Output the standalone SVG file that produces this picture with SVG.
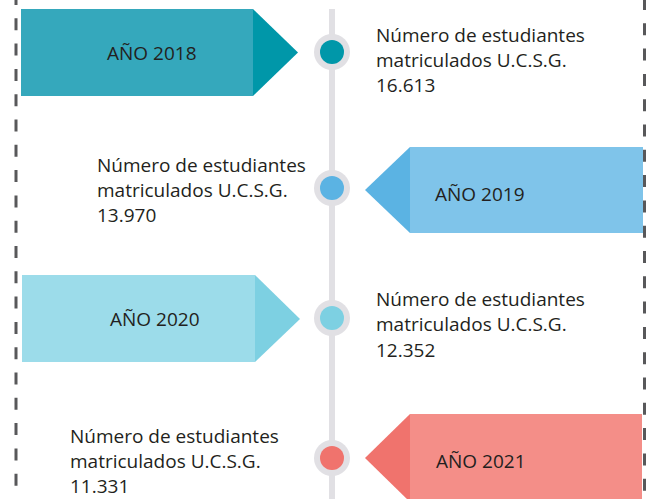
<svg xmlns="http://www.w3.org/2000/svg" width="659" height="499" viewBox="0 0 659 499">
<style>
.t{font-family:"Open Sans","Liberation Sans",sans-serif;font-size:19px;fill:#231f20}
.ring{fill:#e1e0e4}
.dash{stroke:#58585a;stroke-width:3;stroke-dasharray:12 13.3;fill:none}
</style>
<rect width="659" height="499" fill="#ffffff"/>
<g id="borders">
<line class="dash" x1="16" y1="-7" x2="16" y2="499"/>
<line class="dash" x1="644.5" y1="-2" x2="644.5" y2="499"/>
</g>
<g id="connectors">
<line x1="332" y1="9" x2="332" y2="499" stroke="#e1e0e4" stroke-width="6"/>
</g>
<g id="node-2018">
<rect x="21" y="9" width="232" height="87" fill="#35a8bc"/>
<polygon points="253,9 298,52.5 253,96" fill="#0097a9"/>
<text class="t" x="107" y="60">AÑO 2018</text>
<circle class="ring" cx="332" cy="52" r="18"/>
<circle cx="332" cy="52" r="12" fill="#0097a9"/>
<text class="t" x="376" y="42">Número de estudiantes</text>
<text class="t" x="376" y="67">matriculados U.C.S.G.</text>
<text class="t" x="376" y="92">16.613</text>
</g>
<g id="node-2019">
<rect x="410" y="147" width="233" height="86" fill="#7fc4ea"/>
<polygon points="410,147 365,190 410,233" fill="#5bb3e3"/>
<text class="t" x="435" y="201">AÑO 2019</text>
<circle class="ring" cx="332" cy="188" r="18"/>
<circle cx="332" cy="188" r="12" fill="#5bb3e3"/>
<text class="t" x="97" y="172">Número de estudiantes</text>
<text class="t" x="97" y="197">matriculados U.C.S.G.</text>
<text class="t" x="97" y="222">13.970</text>
</g>
<g id="node-2020">
<rect x="22" y="275" width="233" height="87" fill="#9cdcea"/>
<polygon points="255,275 300,319 255,362" fill="#7dd0e2"/>
<text class="t" x="110" y="326">AÑO 2020</text>
<circle class="ring" cx="332" cy="318" r="18"/>
<circle cx="332" cy="318" r="12" fill="#7dd0e2"/>
<text class="t" x="376" y="306">Número de estudiantes</text>
<text class="t" x="376" y="331">matriculados U.C.S.G.</text>
<text class="t" x="376" y="357">12.352</text>
</g>
<g id="node-2021">
<rect x="410" y="414" width="232" height="88" fill="#f48e88"/>
<polygon points="410,414 365,458 410,502" fill="#f0736d"/>
<text class="t" x="436" y="468">AÑO 2021</text>
<circle class="ring" cx="332" cy="458" r="18"/>
<circle cx="332" cy="458" r="12" fill="#f0736d"/>
<text class="t" x="70" y="443">Número de estudiantes</text>
<text class="t" x="70" y="468">matriculados U.C.S.G.</text>
<text class="t" x="70" y="493">11.331</text>
</g>
</svg>
